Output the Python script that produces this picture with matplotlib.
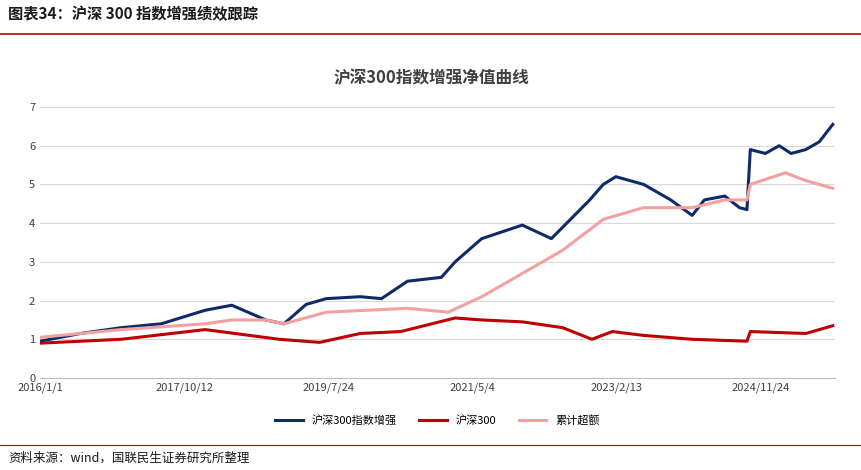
import matplotlib
matplotlib.use("Agg")
import matplotlib.pyplot as plt
import matplotlib.dates as mdates
import pandas as pd

plt.rcParams['font.family'] = ['Noto Sans CJK SC', 'DejaVu Sans']

enh_dates = ["2016-01-01","2016-07-01","2017-01-01","2017-07-01","2018-01-15","2018-05-15","2018-10-15","2019-01-05",
             "2019-04-15","2019-07-15","2019-12-15","2020-03-20","2020-07-15","2020-12-15","2021-02-15","2021-06-15",
             "2021-12-15","2022-04-25","2022-10-15","2022-12-15","2023-02-10","2023-06-15","2023-10-15","2024-01-20",
             "2024-03-15","2024-06-15","2024-08-20","2024-09-23","2024-10-08","2024-12-15","2025-02-15","2025-04-10",
             "2025-06-15","2025-08-15","2025-10-15"]
enh_vals = [0.95,1.15,1.3,1.4,1.75,1.88,1.5,1.4,1.9,2.05,2.1,2.05,2.5,2.6,3.0,3.6,3.95,3.6,4.6,5.0,5.2,5.0,4.6,4.2,
            4.6,4.7,4.4,4.35,5.9,5.8,6.0,5.8,5.9,6.1,6.55]

csi_dates = ["2016-01-01","2017-01-01","2018-01-15","2018-12-15","2019-06-15","2019-12-15","2020-06-15","2021-02-15",
             "2021-06-15","2021-12-15","2022-06-15","2022-10-25","2023-01-25","2023-06-15","2024-01-20","2024-09-23",
             "2024-10-08","2025-06-15","2025-10-15"]
csi_vals = [0.9,1.0,1.25,1.0,0.92,1.15,1.2,1.55,1.5,1.45,1.3,1.0,1.2,1.1,1.0,0.95,1.2,1.15,1.35]

exc_dates = ["2016-01-01","2017-01-01","2018-01-15","2018-05-15","2018-10-15","2019-01-05","2019-07-15","2020-01-15",
             "2020-07-15","2021-01-15","2021-06-15","2021-12-15","2022-06-15","2022-12-15","2023-06-15","2024-01-20",
             "2024-06-15","2024-09-23","2024-10-08","2025-03-15","2025-06-15","2025-10-15"]
exc_vals = [1.05,1.25,1.4,1.5,1.5,1.4,1.7,1.75,1.8,1.7,2.1,2.7,3.3,4.1,4.4,4.4,4.6,4.6,5.0,5.3,5.1,4.9]

tick_labels = ["2016/1/1","2017/10/12","2019/7/24","2021/5/4","2023/2/13","2024/11/24"]
names = ["沪深300指数增强", "沪深300", "累计超额"]

fig = plt.figure(figsize=(8.62, 4.7), dpi=100)
ax = fig.add_axes([40/862, 1-378/470, 795/862, (378-107)/470])

ax.plot(pd.to_datetime(enh_dates), enh_vals, color="#0f2a6b", lw=2.2, label=names[0])
ax.plot(pd.to_datetime(csi_dates), csi_vals, color="#c00000", lw=2.2, label=names[1])
ax.plot(pd.to_datetime(exc_dates), exc_vals, color="#f4a0a0", lw=2.2, label=names[2])

ax.set_ylim(0, 7)
ax.set_yticks(range(8))
ax.set_xlim(pd.Timestamp("2016-01-01"), pd.Timestamp("2025-10-25"))
ax.set_xticks(pd.to_datetime(tick_labels))
ax.set_xticklabels(tick_labels)
ax.tick_params(labelsize=8, length=0, colors="#404040")
ax.grid(axis="y", color="#d9d9d9", lw=0.8)
for s in ["top", "right", "left"]:
    ax.spines[s].set_visible(False)
ax.spines["bottom"].set_color("#bfbfbf")
ax.set_axisbelow(True)

ax.legend(loc="upper center", bbox_to_anchor=(0.5, -0.1), ncol=3, frameon=False, fontsize=8, handlelength=2.5)

fig.text(8/862, 1-14/470, "图表34：沪深 300 指数增强绩效跟踪", fontsize=11, fontweight="bold", va="center", color="#1a1a1a")
fig.add_artist(plt.Line2D([0, 1], [1-34/470, 1-34/470], color="#c00000", lw=1.2))
fig.text(0.5, 1-78/470, "沪深300指数增强净值曲线", fontsize=12, fontweight="bold", ha="center", va="center", color="#404040")
fig.add_artist(plt.Line2D([0, 1], [1-445/470, 1-445/470], color="#c00000", lw=0.8))
fig.text(8/862, 1-458/470, "资料来源：wind，国联民生证券研究所整理", fontsize=9, va="center", color="#1a1a1a")

fig.savefig("out.png", dpi=100)
